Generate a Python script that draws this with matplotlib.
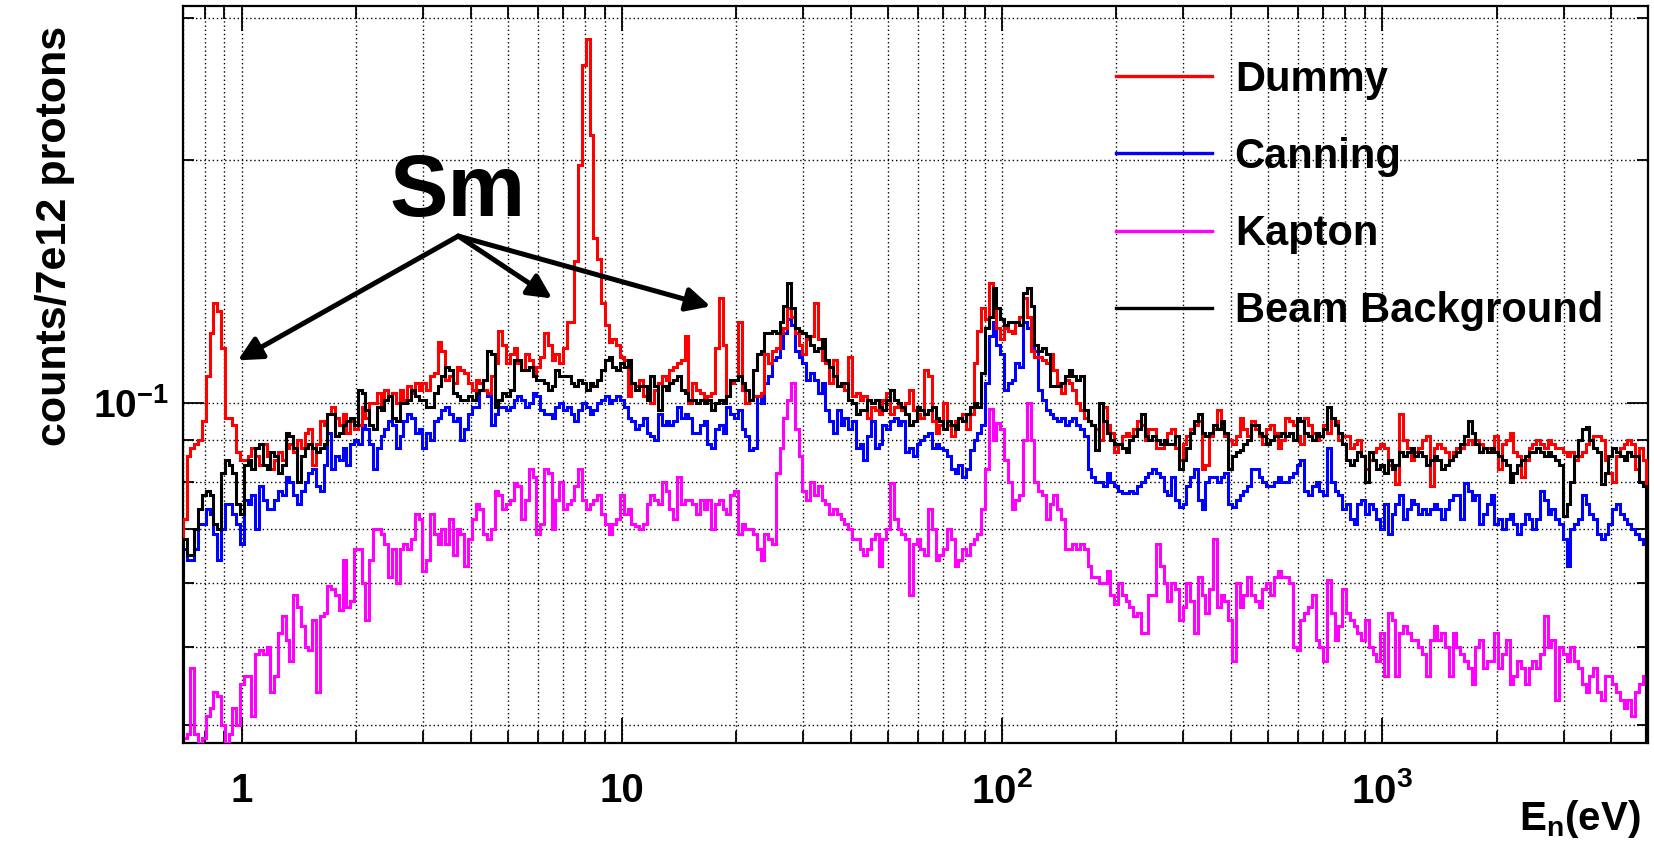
import numpy as np
import matplotlib
matplotlib.use("Agg")
import matplotlib.pyplot as plt
from matplotlib.lines import Line2D
from matplotlib.ticker import LogLocator, FixedLocator, FuncFormatter, NullFormatter

plt.rcParams.update({
    "font.family": "Liberation Sans",
    "font.weight": "bold",
    "mathtext.fontset": "custom",
    "mathtext.rm": "Liberation Sans:bold",
    "mathtext.it": "Liberation Sans:bold",
    "mathtext.bf": "Liberation Sans:bold",
    "mathtext.default": "rm",
})

# ── binning: 100 log bins per decade from 0.7 eV ─────────────
LOG_E_START = -0.155
BIN_DEC = 0.01
N_BINS = 385

# ── histogram contents (counts / 7e12 protons), one value per bin ──
dummy = [
    0.072, 0.086, 0.088, 0.089, 0.090, 0.095, 0.108, 0.122, 0.133, 0.130,
    0.117, 0.096, 0.096, 0.094, 0.087, 0.085, 0.085, 0.086, 0.088, 0.086,
    0.084, 0.089, 0.086, 0.083, 0.085, 0.087, 0.085, 0.088, 0.089, 0.087,
    0.090, 0.088, 0.092, 0.093, 0.084, 0.089, 0.095, 0.094, 0.097, 0.099,
    0.096, 0.094, 0.097, 0.092, 0.095, 0.093, 0.094, 0.099, 0.096, 0.100,
    0.100, 0.103, 0.099, 0.104, 0.102, 0.103, 0.100, 0.104, 0.101, 0.105,
    0.103, 0.106, 0.104, 0.106, 0.104, 0.108, 0.109, 0.119, 0.116, 0.107,
    0.108, 0.106, 0.111, 0.110, 0.109, 0.106, 0.104, 0.107, 0.106, 0.104,
    0.103, 0.108, 0.112, 0.123, 0.118, 0.112, 0.115, 0.117, 0.112, 0.110,
    0.115, 0.113, 0.108, 0.111, 0.114, 0.122, 0.118, 0.113, 0.115, 0.112,
    0.117, 0.126, 0.126, 0.150, 0.197, 0.262, 0.282, 0.215, 0.160, 0.151,
    0.133, 0.125, 0.119, 0.120, 0.118, 0.114, 0.113, 0.102, 0.106, 0.105,
    0.107, 0.102, 0.103, 0.100, 0.104, 0.106, 0.108, 0.107, 0.110, 0.111,
    0.112, 0.113, 0.121, 0.100, 0.106, 0.104, 0.103, 0.101, 0.102, 0.103,
    0.117, 0.135, 0.118, 0.102, 0.106, 0.107, 0.126, 0.104, 0.100, 0.101,
    0.102, 0.102, 0.103, 0.115, 0.112, 0.116, 0.117, 0.122, 0.124, 0.131,
    0.128, 0.122, 0.118, 0.115, 0.120, 0.121, 0.133, 0.120, 0.113, 0.112,
    0.106, 0.113, 0.105, 0.106, 0.104, 0.114, 0.102, 0.103, 0.101, 0.102,
    0.096, 0.099, 0.098, 0.097, 0.101, 0.103, 0.097, 0.099, 0.100, 0.098,
    0.100, 0.104, 0.098, 0.097, 0.096, 0.110, 0.108, 0.095, 0.092, 0.094,
    0.100, 0.094, 0.091, 0.095, 0.096, 0.097, 0.093, 0.097, 0.112, 0.123,
    0.131, 0.127, 0.141, 0.130, 0.124, 0.120, 0.124, 0.123, 0.122, 0.126,
    0.128, 0.135, 0.128, 0.116, 0.114, 0.114, 0.113, 0.112, 0.115, 0.110,
    0.106, 0.103, 0.107, 0.106, 0.104, 0.100, 0.098, 0.096, 0.095, 0.094,
    0.093, 0.090, 0.099, 0.094, 0.092, 0.087, 0.089, 0.091, 0.092, 0.091,
    0.093, 0.095, 0.094, 0.090, 0.093, 0.093, 0.088, 0.088, 0.090, 0.092,
    0.093, 0.088, 0.085, 0.089, 0.091, 0.093, 0.094, 0.095, 0.083, 0.084,
    0.091, 0.093, 0.098, 0.094, 0.091, 0.090, 0.089, 0.091, 0.096, 0.093,
    0.091, 0.095, 0.093, 0.091, 0.089, 0.093, 0.094, 0.092, 0.088, 0.090,
    0.096, 0.095, 0.094, 0.091, 0.089, 0.096, 0.094, 0.092, 0.090, 0.091,
    0.094, 0.092, 0.096, 0.095, 0.090, 0.091, 0.091, 0.088, 0.089, 0.090,
    0.086, 0.083, 0.085, 0.087, 0.088, 0.089, 0.088, 0.084, 0.083, 0.0795,
    0.097, 0.090, 0.088, 0.085, 0.087, 0.088, 0.090, 0.091, 0.079, 0.088,
    0.089, 0.088, 0.087, 0.085, 0.087, 0.088, 0.088, 0.089, 0.090, 0.089,
    0.090, 0.089, 0.088, 0.088, 0.088, 0.091, 0.083, 0.089, 0.090, 0.092,
    0.087, 0.086, 0.081, 0.085, 0.088, 0.089, 0.090, 0.089, 0.088, 0.090,
    0.089, 0.088, 0.088, 0.087, 0.086, 0.087, 0.085, 0.086, 0.087, 0.089,
    0.090, 0.091, 0.091, 0.090, 0.085, 0.082, 0.080, 0.086, 0.088, 0.089,
    0.090, 0.089, 0.083, 0.088, 0.085,
]

canning = [
    0.066, 0.064, 0.064, 0.066, 0.071, 0.071, 0.074, 0.073, 0.069, 0.064,
    0.070, 0.075, 0.075, 0.073, 0.071, 0.067, 0.076, 0.075, 0.077, 0.070,
    0.079, 0.076, 0.074, 0.074, 0.076, 0.078, 0.077, 0.081, 0.080, 0.077,
    0.075, 0.078, 0.080, 0.082, 0.083, 0.079, 0.078, 0.084, 0.092, 0.083,
    0.086, 0.085, 0.088, 0.084, 0.089, 0.090, 0.089, 0.094, 0.093, 0.089,
    0.083, 0.088, 0.091, 0.093, 0.095, 0.094, 0.088, 0.091, 0.095, 0.097,
    0.096, 0.092, 0.093, 0.088, 0.092, 0.090, 0.095, 0.096, 0.098, 0.099,
    0.097, 0.095, 0.096, 0.090, 0.093, 0.097, 0.099, 0.099, 0.104, 0.104,
    0.102, 0.094, 0.097, 0.099, 0.099, 0.098, 0.099, 0.101, 0.102, 0.101,
    0.099, 0.100, 0.103, 0.102, 0.098, 0.097, 0.097, 0.096, 0.099, 0.100,
    0.098, 0.099, 0.097, 0.095, 0.098, 0.100, 0.099, 0.097, 0.098, 0.100,
    0.101, 0.102, 0.100, 0.101, 0.102, 0.101, 0.099, 0.096, 0.095, 0.093,
    0.094, 0.096, 0.092, 0.091, 0.090, 0.097, 0.094, 0.095, 0.094, 0.095,
    0.099, 0.096, 0.097, 0.096, 0.092, 0.092, 0.094, 0.095, 0.089, 0.088,
    0.093, 0.094, 0.092, 0.099, 0.097, 0.096, 0.098, 0.093, 0.091, 0.0875,
    0.088, 0.102, 0.100, 0.106, 0.108, 0.113, 0.114, 0.117, 0.122, 0.127,
    0.125, 0.116, 0.114, 0.112, 0.107, 0.109, 0.107, 0.103, 0.106, 0.098,
    0.095, 0.092, 0.098, 0.094, 0.096, 0.093, 0.095, 0.088, 0.089, 0.085,
    0.091, 0.095, 0.088, 0.089, 0.094, 0.093, 0.095, 0.096, 0.094, 0.095,
    0.087, 0.088, 0.086, 0.089, 0.090, 0.091, 0.092, 0.088, 0.089, 0.088,
    0.0875, 0.086, 0.083, 0.082, 0.084, 0.081, 0.083, 0.0875, 0.090, 0.092,
    0.094, 0.106, 0.121, 0.126, 0.118, 0.115, 0.104, 0.106, 0.107, 0.112,
    0.111, 0.126, 0.124, 0.119, 0.116, 0.104, 0.101, 0.098, 0.097, 0.096,
    0.095, 0.096, 0.094, 0.095, 0.096, 0.094, 0.093, 0.091, 0.083, 0.081,
    0.080, 0.080, 0.079, 0.082, 0.080, 0.079, 0.078, 0.0775, 0.0775, 0.078,
    0.0775, 0.079, 0.080, 0.081, 0.082, 0.083, 0.082, 0.081, 0.078, 0.077,
    0.081, 0.076, 0.0745, 0.075, 0.079, 0.081, 0.083, 0.076, 0.074, 0.080,
    0.081, 0.081, 0.080, 0.081, 0.082, 0.075, 0.0745, 0.076, 0.077, 0.078,
    0.079, 0.083, 0.083, 0.081, 0.080, 0.079, 0.079, 0.080, 0.081, 0.080,
    0.080, 0.081, 0.082, 0.084, 0.085, 0.078, 0.077, 0.079, 0.080, 0.078,
    0.077, 0.088, 0.080, 0.078, 0.077, 0.074, 0.075, 0.072, 0.071, 0.075,
    0.076, 0.073, 0.075, 0.074, 0.072, 0.070, 0.075, 0.069, 0.073, 0.075,
    0.077, 0.072, 0.074, 0.076, 0.075, 0.073, 0.074, 0.073, 0.074, 0.075,
    0.074, 0.072, 0.074, 0.076, 0.077, 0.077, 0.072, 0.0796, 0.078, 0.076,
    0.077, 0.071, 0.073, 0.075, 0.077, 0.071, 0.072, 0.070, 0.072, 0.073,
    0.071, 0.069, 0.071, 0.073, 0.072, 0.070, 0.072, 0.078, 0.076, 0.073,
    0.074, 0.072, 0.071, 0.068, 0.063, 0.070, 0.071, 0.072, 0.077, 0.075,
    0.073, 0.072, 0.069, 0.068, 0.069, 0.071, 0.074, 0.075, 0.073, 0.072,
    0.071, 0.070, 0.069, 0.068, 0.067,
]

kapton = [
    0.0385, 0.039, 0.047, 0.039, 0.038, 0.0385, 0.041, 0.042, 0.044, 0.0435,
    0.040, 0.038, 0.039, 0.042, 0.040, 0.045, 0.046, 0.046, 0.041, 0.049,
    0.0495, 0.049, 0.050, 0.044, 0.046, 0.052, 0.0545, 0.051, 0.048, 0.058,
    0.056, 0.053, 0.050, 0.0495, 0.054, 0.044, 0.0545, 0.055, 0.0595, 0.059,
    0.058, 0.0555, 0.064, 0.056, 0.057, 0.066, 0.066, 0.060, 0.054, 0.064,
    0.070, 0.070, 0.069, 0.067, 0.061, 0.066, 0.060, 0.066, 0.067, 0.066,
    0.068, 0.073, 0.072, 0.062, 0.064, 0.073, 0.069, 0.067, 0.070, 0.067,
    0.072, 0.065, 0.070, 0.069, 0.063, 0.068, 0.072, 0.075, 0.074, 0.069,
    0.068, 0.070, 0.078, 0.077, 0.074, 0.075, 0.076, 0.0796, 0.079, 0.072,
    0.076, 0.083, 0.081, 0.069, 0.071, 0.083, 0.082, 0.070, 0.076, 0.080,
    0.074, 0.075, 0.076, 0.079, 0.083, 0.076, 0.074, 0.075, 0.076, 0.077,
    0.073, 0.071, 0.069, 0.071, 0.072, 0.077, 0.073, 0.074, 0.071, 0.0705,
    0.070, 0.071, 0.075, 0.077, 0.076, 0.075, 0.080, 0.078, 0.074, 0.072,
    0.081, 0.075, 0.076, 0.076, 0.075, 0.073, 0.076, 0.074, 0.076, 0.070,
    0.075, 0.076, 0.074, 0.073, 0.077, 0.078, 0.069, 0.071, 0.070, 0.070,
    0.069, 0.066, 0.064, 0.069, 0.068, 0.067, 0.082, 0.088, 0.096, 0.101,
    0.106, 0.093, 0.086, 0.078, 0.076, 0.080, 0.077, 0.079, 0.076, 0.075,
    0.073, 0.074, 0.073, 0.072, 0.071, 0.070, 0.068, 0.068, 0.066, 0.065,
    0.066, 0.068, 0.069, 0.063, 0.068, 0.070, 0.0796, 0.072, 0.070, 0.069,
    0.068, 0.058, 0.067, 0.068, 0.066, 0.065, 0.074, 0.070, 0.064, 0.065,
    0.066, 0.070, 0.068, 0.063, 0.064, 0.066, 0.065, 0.067, 0.068, 0.069,
    0.074, 0.083, 0.0985, 0.090, 0.0945, 0.093, 0.085, 0.080, 0.074, 0.076,
    0.077, 0.090, 0.100, 0.090, 0.080, 0.078, 0.077, 0.072, 0.075, 0.077,
    0.074, 0.072, 0.066, 0.066, 0.067, 0.066, 0.067, 0.066, 0.063, 0.061,
    0.061, 0.060, 0.060, 0.062, 0.058, 0.0565, 0.060, 0.058, 0.057, 0.056,
    0.0545, 0.055, 0.052, 0.052, 0.058, 0.058, 0.067, 0.063, 0.060, 0.057,
    0.060, 0.059, 0.054, 0.056, 0.060, 0.057, 0.052, 0.061, 0.058, 0.055,
    0.059, 0.068, 0.056, 0.058, 0.057, 0.054, 0.048, 0.060, 0.056, 0.058,
    0.061, 0.058, 0.057, 0.056, 0.059, 0.060, 0.058, 0.061, 0.062, 0.061,
    0.061, 0.060, 0.050, 0.0495, 0.054, 0.055, 0.056, 0.058, 0.051, 0.050,
    0.048, 0.0605, 0.055, 0.051, 0.053, 0.059, 0.055, 0.054, 0.053, 0.052,
    0.051, 0.054, 0.050, 0.049, 0.048, 0.052, 0.046, 0.055, 0.054, 0.046,
    0.052, 0.053, 0.052, 0.051, 0.051, 0.050, 0.049, 0.046, 0.051, 0.053,
    0.051, 0.052, 0.050, 0.046, 0.052, 0.050, 0.049, 0.048, 0.047, 0.045,
    0.050, 0.051, 0.047, 0.048, 0.048, 0.052, 0.047, 0.049, 0.051, 0.045,
    0.046, 0.048, 0.047, 0.045, 0.047, 0.048, 0.047, 0.049, 0.0545, 0.050,
    0.051, 0.043, 0.050, 0.049, 0.048, 0.050, 0.048, 0.047, 0.045, 0.044,
    0.046, 0.047, 0.044, 0.043, 0.046, 0.046, 0.045, 0.044, 0.043, 0.042,
    0.043, 0.041, 0.044, 0.045, 0.046,
]

beam_bkg = [
    0.068, 0.065, 0.065, 0.070, 0.074, 0.077, 0.078, 0.077, 0.071, 0.070,
    0.082, 0.085, 0.084, 0.082, 0.075, 0.073, 0.084, 0.085, 0.083, 0.088,
    0.089, 0.084, 0.083, 0.087, 0.086, 0.082, 0.084, 0.092, 0.091, 0.088,
    0.080, 0.086, 0.088, 0.089, 0.088, 0.087, 0.088, 0.089, 0.097, 0.097,
    0.091, 0.092, 0.094, 0.095, 0.096, 0.094, 0.104, 0.103, 0.098, 0.094,
    0.093, 0.099, 0.098, 0.101, 0.102, 0.096, 0.095, 0.100, 0.100, 0.101,
    0.104, 0.102, 0.101, 0.101, 0.099, 0.099, 0.103, 0.105, 0.108, 0.111,
    0.110, 0.103, 0.102, 0.101, 0.101, 0.102, 0.101, 0.103, 0.104, 0.107,
    0.116, 0.115, 0.099, 0.101, 0.103, 0.102, 0.104, 0.113, 0.113, 0.110,
    0.110, 0.111, 0.108, 0.107, 0.107, 0.106, 0.104, 0.105, 0.110, 0.108,
    0.108, 0.108, 0.106, 0.105, 0.107, 0.106, 0.104, 0.106, 0.105, 0.107,
    0.110, 0.113, 0.114, 0.111, 0.110, 0.112, 0.111, 0.113, 0.106, 0.104,
    0.105, 0.105, 0.101, 0.108, 0.105, 0.098, 0.105, 0.104, 0.106, 0.107,
    0.108, 0.104, 0.103, 0.101, 0.101, 0.100, 0.101, 0.100, 0.101, 0.098,
    0.100, 0.101, 0.100, 0.102, 0.107, 0.107, 0.108, 0.106, 0.104, 0.101,
    0.110, 0.115, 0.116, 0.122, 0.122, 0.123, 0.122, 0.126, 0.132, 0.141,
    0.131, 0.124, 0.123, 0.122, 0.121, 0.118, 0.116, 0.117, 0.120, 0.113,
    0.111, 0.108, 0.105, 0.106, 0.106, 0.101, 0.100, 0.097, 0.098, 0.098,
    0.101, 0.100, 0.101, 0.099, 0.098, 0.101, 0.104, 0.101, 0.100, 0.099,
    0.097, 0.094, 0.095, 0.099, 0.098, 0.097, 0.098, 0.099, 0.096, 0.095,
    0.093, 0.095, 0.094, 0.093, 0.096, 0.095, 0.097, 0.099, 0.100, 0.099,
    0.109, 0.124, 0.128, 0.139, 0.131, 0.127, 0.125, 0.126, 0.126, 0.126,
    0.125, 0.137, 0.139, 0.132, 0.118, 0.116, 0.117, 0.115, 0.105, 0.105,
    0.105, 0.106, 0.108, 0.110, 0.108, 0.107, 0.108, 0.098, 0.095, 0.094,
    0.0875, 0.100, 0.095, 0.092, 0.090, 0.089, 0.089, 0.088, 0.087, 0.090,
    0.091, 0.093, 0.097, 0.091, 0.090, 0.091, 0.090, 0.089, 0.090, 0.089,
    0.089, 0.091, 0.083, 0.085, 0.088, 0.092, 0.095, 0.097, 0.092, 0.091,
    0.092, 0.094, 0.093, 0.095, 0.092, 0.083, 0.086, 0.087, 0.0875, 0.089,
    0.090, 0.094, 0.094, 0.092, 0.091, 0.089, 0.090, 0.091, 0.091, 0.092,
    0.091, 0.092, 0.090, 0.096, 0.095, 0.092, 0.091, 0.090, 0.092, 0.091,
    0.093, 0.099, 0.096, 0.094, 0.092, 0.089, 0.085, 0.084, 0.085, 0.087,
    0.086, 0.080, 0.087, 0.085, 0.083, 0.084, 0.082, 0.085, 0.083, 0.084,
    0.087, 0.086, 0.087, 0.088, 0.086, 0.087, 0.086, 0.084, 0.085, 0.086,
    0.085, 0.083, 0.084, 0.085, 0.086, 0.087, 0.089, 0.091, 0.095, 0.092,
    0.089, 0.087, 0.088, 0.087, 0.088, 0.087, 0.086, 0.085, 0.084, 0.080,
    0.082, 0.084, 0.085, 0.086, 0.087, 0.087, 0.088, 0.087, 0.086, 0.087,
    0.086, 0.085, 0.084, 0.0725, 0.075, 0.080, 0.086, 0.090, 0.093, 0.0935,
    0.090, 0.088, 0.087, 0.0795, 0.082, 0.086, 0.088, 0.087, 0.086, 0.085,
    0.087, 0.086, 0.086, 0.080, 0.079,
]

series_labels = ["Dummy", "Canning", "Kapton", "Beam Background"]
series_colors = ["#ff0000", "#0000ff", "#ff00ff", "#000000"]

# Sm resonance annotation (data coordinates)
sm_label_pos = (3.69, 0.182)
sm_arrow_origin = (3.71, 0.161)
sm_arrow_tips = [(0.976, 0.113), (6.55, 0.1348), (17.1, 0.1318)]

edges = 10 ** (LOG_E_START + BIN_DEC * np.arange(N_BINS + 1))

fig = plt.figure(figsize=(16.54, 8.46), dpi=100)
ax = fig.add_axes([0.1106, 0.1217, 0.8857, 0.8712])
ax.set_xscale("log")
ax.set_yscale("log")
ax.set_xlim(0.7, 5000)
ax.set_ylim(0.038, 0.31)

# draw order: Kapton, Canning, Dummy, then beam background on top
data = dict(zip(series_labels, [dummy, canning, kapton, beam_bkg]))
colors = dict(zip(series_labels, series_colors))
for name in ["Kapton", "Canning", "Dummy", "Beam Background"]:
    ax.stairs(data[name], edges, color=colors[name], lw=2.2, zorder=3)

# ── axes / ticks (ROOT style: inside ticks on all sides, dotted grid) ──
ax.xaxis.set_major_locator(LogLocator(base=10, numticks=20))
ax.xaxis.set_minor_locator(LogLocator(base=10, subs=np.arange(2, 10), numticks=20))


def xfmt(v, pos):
    p = int(round(np.log10(v)))
    if p == 0:
        return "1"
    if p == 1:
        return "10"
    return r"$10^{%d}$" % p


ax.xaxis.set_major_formatter(FuncFormatter(xfmt))
ax.xaxis.set_minor_formatter(NullFormatter())
ax.yaxis.set_major_locator(FixedLocator([0.1]))
ax.yaxis.set_minor_locator(FixedLocator([0.04, 0.05, 0.06, 0.07, 0.08, 0.09, 0.2, 0.3]))
ax.yaxis.set_major_formatter(FuncFormatter(lambda v, pos: r"$10^{-1}$"))
ax.yaxis.set_minor_formatter(NullFormatter())

ax.tick_params(which="both", direction="in", top=True, right=True, width=1.3, color="black")
ax.tick_params(axis="x", which="major", length=18, pad=21, labelsize=29)
ax.tick_params(axis="x", which="minor", length=9)
ax.tick_params(axis="y", which="major", length=15, pad=10, labelsize=28)
ax.tick_params(axis="y", which="minor", length=8)

ax.grid(True, which="both", color="black", linestyle=(0, (1, 2)), linewidth=1.0)
ax.set_axisbelow(True)
for sp in ax.spines.values():
    sp.set_linewidth(1.6)

fig.text(55 / 1654, 1 - 26 / 846, "counts/7e12 protons", rotation=90,
         ha="center", va="top", fontsize=31, fontweight="bold")
fig.text(1641 / 1654, 1 - 798 / 846, r"$\mathrm{E_{n}}$(eV)",
         ha="right", va="top", fontsize=29, fontweight="bold")

# ── legend ──
handles = [Line2D([], [], color=c, lw=2.4) for c in series_colors]
ax.legend(handles, series_labels, loc="upper left",
          bbox_to_anchor=(1116 / 1654, 1 - 60 / 846), bbox_transform=fig.transFigure,
          frameon=False, fontsize=30, handlelength=2.3, handletextpad=0.55,
          labelspacing=0.89, borderpad=0, borderaxespad=0)

# ── Sm label and arrows ──
ax.text(*sm_label_pos, "Sm", fontsize=63, fontweight="bold", ha="center", va="center", zorder=5)
for tip in sm_arrow_tips:
    ax.annotate("", xy=tip, xytext=sm_arrow_origin,
                arrowprops=dict(arrowstyle="-|>,head_length=0.8,head_width=0.4",
                                lw=3.6, color="black", shrinkA=0, shrinkB=0,
                                mutation_scale=18), zorder=5)

fig.savefig("out.png", dpi=100)
